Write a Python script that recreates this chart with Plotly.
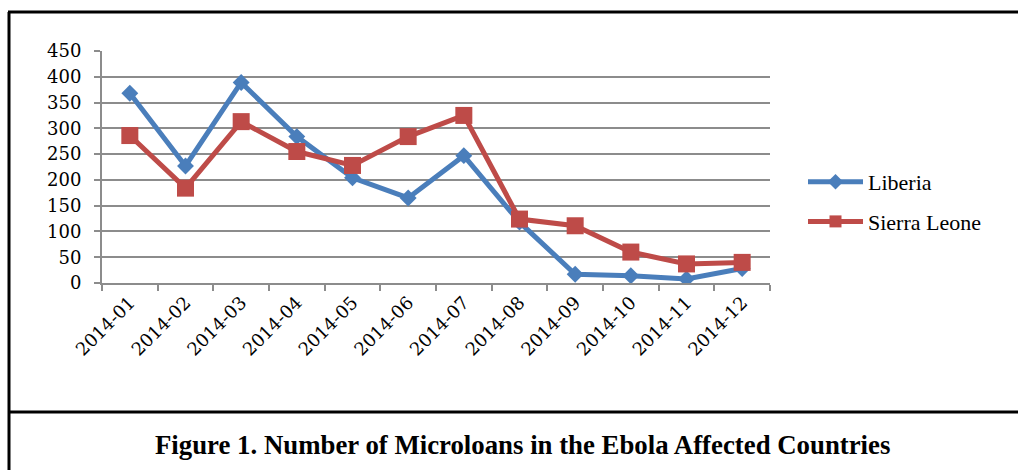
import plotly.graph_objects as go

months = ["2014-01", "2014-02", "2014-03", "2014-04", "2014-05", "2014-06",
          "2014-07", "2014-08", "2014-09", "2014-10", "2014-11", "2014-12"]
liberia = [368, 227, 389, 284, 204, 165, 247, 118, 17, 14, 8, 28]
sierra_leone = [286, 184, 313, 255, 228, 284, 325, 124, 111, 60, 37, 40]
y_ticks = [0, 50, 100, 150, 200, 250, 300, 350, 400, 450]
title_text = "Figure 1. Number of Microloans in the Ebola Affected Countries"

W, H = 1018, 470
BLUE = "#4A7EBB"
RED = "#BE4B48"
GRID = "#8C8C8C"
TICK_FONT = dict(family="DejaVu Serif", size=18, color="black")

fig = go.Figure()
fig.add_trace(go.Scatter(
    x=months, y=liberia, name="Liberia", mode="lines+markers", legendgroup="lib",
    line=dict(color=BLUE, width=5),
    marker=dict(symbol="diamond", size=13, color=BLUE),
))
fig.add_trace(go.Scatter(
    x=months, y=sierra_leone, name="Sierra Leone", mode="lines+markers", legendgroup="sl",
    line=dict(color=RED, width=5),
    marker=dict(symbol="square", size=17, color=RED),
))

fig.update_layout(
    width=W, height=H,
    margin=dict(l=0, r=0, t=0, b=0),
    paper_bgcolor="white", plot_bgcolor="white",
    showlegend=True,
    legend=dict(
        x=803 / W, y=(H - 161) / H, xanchor="left", yanchor="top",
        font=dict(family="Liberation Serif", size=22, color="black"),
        bgcolor="rgba(0,0,0,0)", itemsizing="constant", tracegroupgap=8,
        itemwidth=55,
    ),
    xaxis=dict(
        domain=[102 / W, 770 / W], type="category",
        range=[-0.5, len(months) - 0.5],
        showgrid=False, showline=True, linecolor=GRID, linewidth=2,
        ticks="outside", ticklen=6, tickcolor=GRID, tickwidth=2,
        tickson="boundaries", tickangle=-45,
        tickfont=TICK_FONT,
        automargin=False, fixedrange=True,
    ),
    yaxis=dict(
        domain=[(H - 283) / H, (H - 51) / H],
        range=[0, 450], tickvals=y_ticks,
        showgrid=True, gridcolor=GRID, gridwidth=2,
        showline=True, linecolor=GRID, linewidth=2,
        ticks="outside", ticklen=6, tickcolor=GRID, tickwidth=2,
        tickfont=TICK_FONT,
        ticklabelstandoff=9,
        zeroline=False, automargin=False, fixedrange=True,
    ),
)

# Frame lines (paper coordinates = whole figure since margins are zero)
line_style = dict(color="black", width=3)
fig.add_shape(type="line", xref="paper", yref="paper",
              x0=8 / W, x1=1.0, y0=(H - 12) / H, y1=(H - 12) / H, line=line_style)
fig.add_shape(type="line", xref="paper", yref="paper",
              x0=9 / W, x1=9 / W, y0=(H - 12) / H, y1=0, line=line_style)
fig.add_shape(type="line", xref="paper", yref="paper",
              x0=8 / W, x1=1.0, y0=(H - 412) / H, y1=(H - 412) / H, line=line_style)

fig.add_annotation(
    text="<b>" + title_text + "</b>", xref="paper", yref="paper",
    x=522 / W, y=(H - 445) / H, xanchor="center", yanchor="middle",
    showarrow=False,
    font=dict(family="Liberation Serif", size=26.8, color="black"),
)

fig.write_html("out.html", config={"displayModeBar": False})
